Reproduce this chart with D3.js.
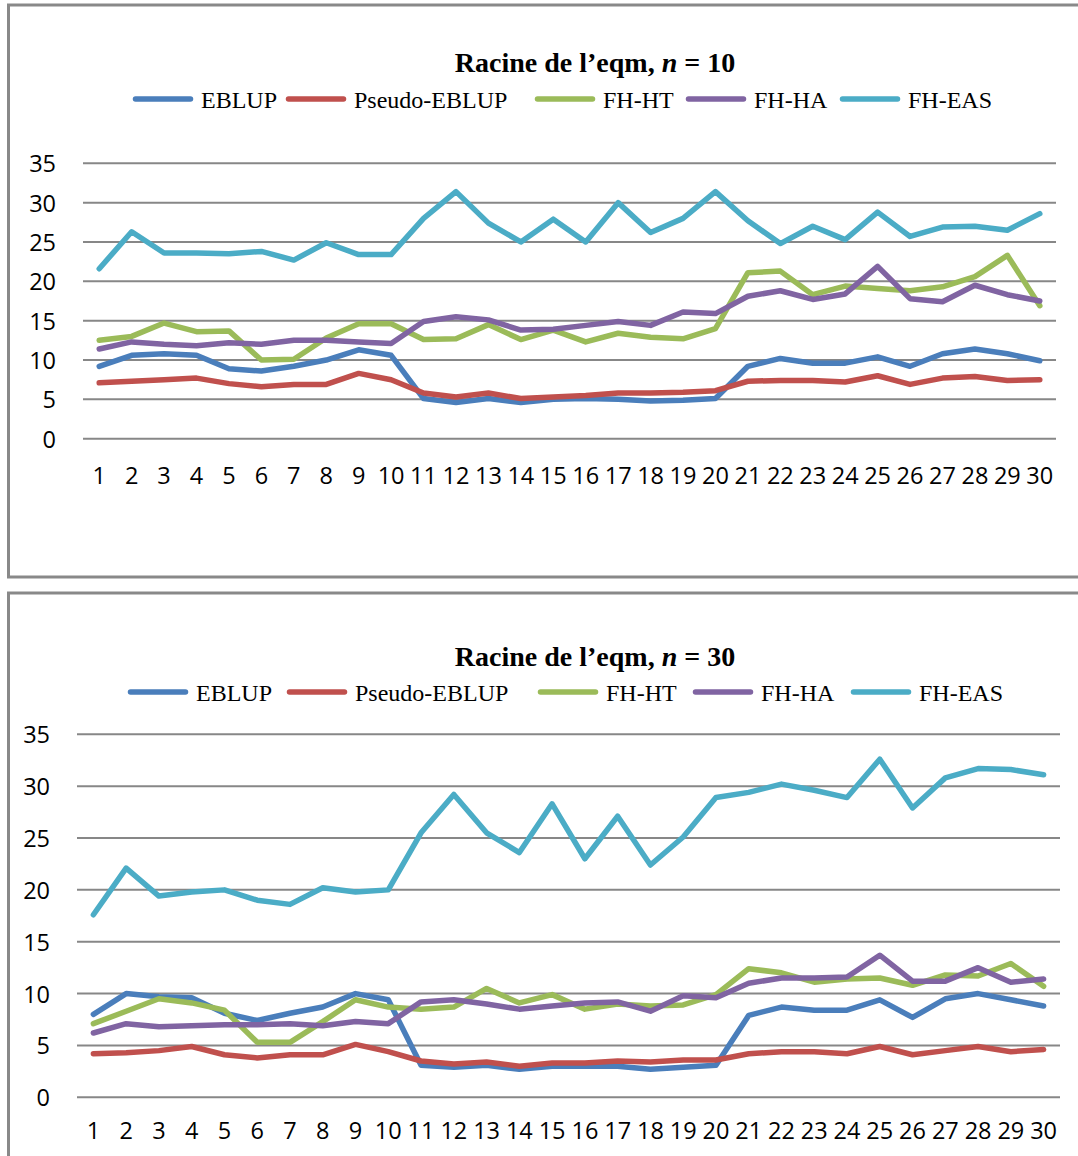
<!DOCTYPE html>
<html>
<head>
<meta charset="utf-8">
<script src="https://cdn.jsdelivr.net/npm/d3@7"></script>
<style>
  html, body { margin: 0; padding: 0; background: #fff; }
  svg { display: block; }
  .tick text { font-family: "Open Sans", sans-serif; font-size: 23.5px; fill: #000; }
</style>
</head>
<body>
<svg id="chart" width="1078" height="1156"></svg>
<script>
// Domain labels 1..30 along the horizontal axis
const categories = d3.range(1, 31).map(String);
const yTicks = [0, 5, 10, 15, 20, 25, 30, 35];
const seriesNames = ["EBLUP", "Pseudo-EBLUP", "FH-HT", "FH-HA", "FH-EAS"];
const seriesColors = ["#4A7EBB", "#C0504D", "#9BBB59", "#8064A2", "#4BACC6"];

// Root MSE, n = 10
const eblup10  = [9.2,10.6,10.8,10.6,8.9,8.6,9.2,10.0,11.3,10.6,5.1,4.6,5.1,4.6,5.0,5.1,5.0,4.8,4.9,5.1,9.2,10.2,9.6,9.6,10.4,9.2,10.8,11.4,10.8,9.9];
const pseudo10 = [7.1,7.3,7.5,7.7,7.0,6.6,6.9,6.9,8.3,7.5,5.8,5.3,5.8,5.1,5.3,5.5,5.8,5.8,5.9,6.1,7.3,7.4,7.4,7.2,8.0,6.9,7.7,7.9,7.4,7.5];
const fhht10   = [12.5,13.0,14.7,13.6,13.7,10.0,10.1,12.8,14.6,14.6,12.6,12.7,14.5,12.6,13.8,12.3,13.4,12.9,12.7,14.0,21.1,21.3,18.3,19.4,19.1,18.8,19.3,20.6,23.3,16.9];
const fhha10   = [11.4,12.3,12.0,11.8,12.2,12.0,12.5,12.5,12.3,12.1,14.9,15.5,15.1,13.8,13.9,14.4,14.9,14.4,16.1,15.9,18.1,18.8,17.7,18.4,21.9,17.8,17.4,19.5,18.3,17.5];
const fheas10  = [21.6,26.3,23.6,23.6,23.5,23.8,22.7,24.9,23.4,23.4,28.0,31.4,27.4,25.0,27.9,25.0,30.0,26.2,28.0,31.4,27.7,24.8,27.0,25.3,28.8,25.7,26.9,27.0,26.5,28.6];

// Root MSE, n = 30
const eblup30  = [8.0,10.0,9.7,9.6,8.1,7.4,8.1,8.7,10.0,9.4,3.1,2.9,3.1,2.7,3.0,3.0,3.0,2.7,2.9,3.1,7.9,8.7,8.4,8.4,9.4,7.7,9.5,10.0,9.4,8.8];
const pseudo30 = [4.2,4.3,4.5,4.9,4.1,3.8,4.1,4.1,5.1,4.4,3.5,3.2,3.4,3.0,3.3,3.3,3.5,3.4,3.6,3.6,4.2,4.4,4.4,4.2,4.9,4.1,4.5,4.9,4.4,4.6];
const fhht30   = [7.1,8.3,9.5,9.1,8.4,5.3,5.3,7.3,9.4,8.7,8.5,8.7,10.5,9.1,9.9,8.5,9.0,8.8,8.9,9.9,12.4,12.0,11.1,11.4,11.5,10.8,11.8,11.7,12.9,10.7];
const fhha30   = [6.2,7.1,6.8,6.9,7.0,7.0,7.1,6.9,7.3,7.1,9.2,9.4,9.0,8.5,8.8,9.1,9.2,8.3,9.8,9.6,11.0,11.5,11.5,11.6,13.7,11.2,11.2,12.5,11.1,11.4];
const fheas30  = [17.6,22.1,19.4,19.8,20.0,19.0,18.6,20.2,19.8,20.0,25.5,29.2,25.5,23.6,28.3,23.0,27.1,22.4,25.1,28.9,29.4,30.2,29.6,28.9,32.6,27.9,30.8,31.7,31.6,31.1];

const panels = [
  {
    n: "10",
    series: [eblup10, pseudo10, fhht10, fhha10, fheas10],
    frame: { x: 8.5, y: 5, w: 1100, h: 572 },
    plot: { x0: 83, x1: 1056, yTop: 163.3, yBottom: 438.7 },
    yLabelRight: 56, xLabelY: 476,
    titleY: 72, legendY: 99, legendX: 133,
    legendOffsets: [0, 153, 402, 553, 707]
  },
  {
    n: "30",
    series: [eblup30, pseudo30, fhht30, fhha30, fheas30],
    frame: { x: 8.5, y: 593, w: 1100, h: 600 },
    plot: { x0: 77, x1: 1060, yTop: 734.3, yBottom: 1097.3 },
    yLabelRight: 50, xLabelY: 1131,
    titleY: 666, legendY: 692, legendX: 128,
    legendOffsets: [0, 159, 410, 565, 723]
  }
];

const svg = d3.select("#chart");

panels.forEach(p => {
  const g = svg.append("g");

  // chart frame
  g.append("rect")
    .attr("x", p.frame.x).attr("y", p.frame.y)
    .attr("width", p.frame.w).attr("height", p.frame.h)
    .attr("fill", "#fff").attr("stroke", "#898989").attr("stroke-width", 3);

  const x = d3.scaleBand().domain(categories).range([p.plot.x0, p.plot.x1]);
  const y = d3.scaleLinear().domain([0, 35]).range([p.plot.yBottom, p.plot.yTop]);

  // horizontal gridlines
  g.append("g").selectAll("line").data(yTicks).join("line")
    .attr("x1", p.plot.x0).attr("x2", p.plot.x1)
    .attr("y1", d => y(d)).attr("y2", d => y(d))
    .attr("stroke", "#878787").attr("stroke-width", 2);

  // value axis labels
  const yAxis = g.append("g")
    .attr("transform", `translate(${p.yLabelRight},0)`)
    .call(d3.axisLeft(y).tickValues(yTicks).tickSize(0).tickPadding(0));
  yAxis.select(".domain").remove();
  yAxis.selectAll("text").attr("dy", "0.36em");

  // category axis labels
  const xAxis = g.append("g")
    .attr("transform", `translate(0,${p.xLabelY})`)
    .call(d3.axisBottom(x).tickSize(0).tickPadding(0));
  xAxis.select(".domain").remove();
  xAxis.selectAll("text").attr("dy", "0.36em").attr("y", 0);

  // series lines
  const line = d3.line()
    .x((d, i) => x(categories[i]) + x.bandwidth() / 2)
    .y(d => y(d));
  p.series.forEach((vals, k) => {
    g.append("path")
      .datum(vals)
      .attr("d", line)
      .attr("fill", "none")
      .attr("stroke", seriesColors[k])
      .attr("stroke-width", 5.5)
      .attr("stroke-linejoin", "round")
      .attr("stroke-linecap", "round");
  });

  // title
  const title = g.append("text")
    .attr("x", 595).attr("y", p.titleY)
    .attr("text-anchor", "middle")
    .attr("font-family", "'Liberation Serif', 'Times New Roman', serif")
    .attr("font-size", 28).attr("font-weight", "bold");
  title.append("tspan").text("Racine de l\u2019eqm, ");
  title.append("tspan").attr("font-style", "italic").text("n");
  title.append("tspan").text(" = " + p.n);

  // legend
  const legend = g.append("g");
  seriesNames.forEach((name, k) => {
    const lx = p.legendX + p.legendOffsets[k];
    legend.append("line")
      .attr("x1", lx + 2.5).attr("x2", lx + 57.5)
      .attr("y1", p.legendY).attr("y2", p.legendY)
      .attr("stroke", seriesColors[k]).attr("stroke-width", 5.5)
      .attr("stroke-linecap", "round");
    legend.append("text")
      .attr("x", lx + 68).attr("y", p.legendY + 9)
      .attr("font-family", "'Liberation Serif', 'Times New Roman', serif")
      .attr("font-size", 24)
      .text(name);
  });
});
</script>
</body>
</html>
